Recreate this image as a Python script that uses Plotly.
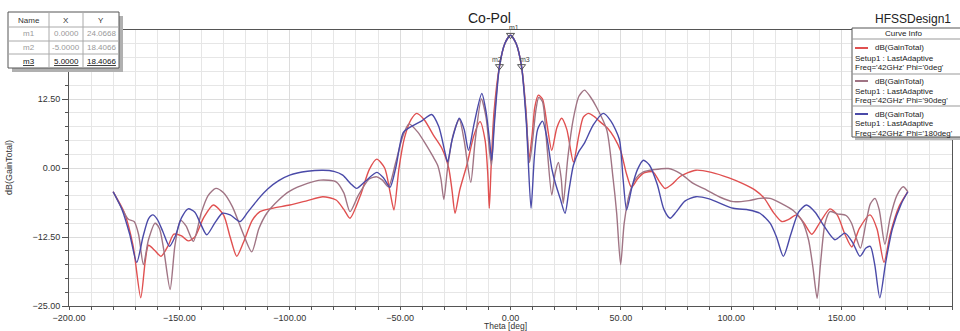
import plotly.graph_objects as go

# ---------------- data ----------------
theta_red = [-180, -175, -171, -167.5, -165.5, -164, -161, -158.3, -155, -152.5, -149, -146, -143, -139,
             -134.6, -130, -127, -124, -121, -117, -113.5, -108, -100, -92, -85, -79, -75.5, -72.7, -68,
             -64, -60.6, -57, -54.5, -52.8, -50.5, -48, -45, -42.5, -39, -35, -31, -28, -26.5, -25.1,
             -23, -19.8, -16.5, -13.8, -11.5, -10.3, -9.6, -8.8, -7.5, -5, -2.5, 0, 2.5, 5, 7, 8.4,
             9.8, 11, 12.6, 14.5, 16.5, 18.7, 21, 23.2, 25.5, 28.5, 31, 33, 35.3, 38, 40.5, 44, 47, 50,
             52.5, 54.8, 57.5, 60.5, 64.5, 67.5, 70, 73, 77, 84, 91, 99, 105, 110.8, 115, 119, 122.9,
             126, 129.6, 133, 136.5, 140, 144.7, 148, 151.5, 154.6, 158, 162.9, 166, 169.2, 172, 176, 180]
gain_red = [-4.3, -8.0, -14, -23.5, -17, -14.0, -15, -16.0, -14, -12.0, -12.3, -13.2, -12.5, -9,
            -6.7, -8.5, -12.5, -16.0, -13.5, -9.5, -7.9, -7.3, -6.7, -5.9, -5.2, -5.8, -7.5, -9.1, -5,
            -0.3, 1.6, 0, -4.5, -7.6, 0, 5.5, 8.8, 9.9, 8.7, 6.0, 3.5, 0, -4, -8.2,
            -4, 0.5, 6, 8.4, 5, -1, -7.3, 0, 10, 18.4066, 22.6, 24.0668, 22.6, 18.4066, 10.5, 1.7,
            6, 11, 13.2, 12.5, 8, 3.2, 7.3, 9.0, 7, 1.1, 6, 9.2, 9.9, 9.3, 8.4, 7.2, 5.5, 3.0,
            -1, -3.5, -2.0, -0.9, -0.7, -2.5, -3.7, -3.0, -1.5, -0.4, -0.8, -1.8, -2.8, -4.0, -5.5, -8.0, -9.7,
            -9.3, -8.5, -10, -12.0, -10, -7.4, -8.5, -12, -14.3, -11, -8.5, -11, -17.1, -12, -7, -4.3]

theta_90 = [-180, -176.5, -173.1, -170.5, -168.5, -166.3, -164, -161, -159, -157, -154.2, -152, -149.5,
            -147, -143.7, -140, -137, -133.5, -130, -126, -121, -117.2, -114, -110.4, -105, -100, -92,
            -86, -79, -75.5, -72.7, -69, -64, -60.6, -58, -55.3, -52, -49, -46, -42, -38.7, -35, -33,
            -31.5, -30.2, -28.5, -26, -23.2, -21, -18, -16, -13.2, -11, -9.5, -8.6, -7.5, -5, -2.5, 0,
            2.5, 5, 7, 8.6, 10, 11.5, 12.8, 14.5, 16.5, 18.7, 20.2, 21.7, 23, 23.9, 26, 28.5, 31, 33.5,
            36, 39, 43.6, 46.5, 48.1, 49.9, 51.5, 54, 57, 60.2, 65, 71.5, 77, 82.8, 88.9, 95, 100.9,
            108, 113, 117.6, 123, 128.1, 132, 135, 137, 138.9, 140.5, 142.5, 144.7, 148, 152, 154.5,
            156.5, 158.5, 161, 163, 165.1, 167, 169.6, 172, 175, 177.9, 180]
gain_90 = [-4.3, -7.0, -9.3, -9.7, -12, -17.5, -13, -10, -11, -15, -22.0, -14, -9.5,
           -10.5, -13.3, -8, -5, -3.7, -4.5, -7, -12, -15.2, -11, -8.2, -5.8, -4.2, -2.8,
           -2.2, -2.5, -4.5, -7.9, -5, -2.0, -1.6, -2.2, -3.4, 1, 5.5, 8.0, 6.5, 4.5, 2.0, 0.5,
           -2, -5.7, 0, 6, 8.8, 5, -2.6, 5, 12.5, 9, 3, 0.5, 8, 18.4066, 22.6, 24.0668,
           22.6, 18.4066, 10, 1.0, 5, 10.5, 12.8, 12, 4, -4.9, -1, 1.0, -2, -6.4, 2, 9, 13, 14.1,
           13, 11, 6.9, -2, -8.2, -17.5, -10, -4.5, -1.8, -0.7, -0.3, -0.1, -1.0, -2.8, -4.0, -5.3, -6.1,
           -5.9, -5.5, -5.5, -6.5, -7.7, -9.5, -13, -18, -23.6, -17, -10, -7.9, -8.3, -8.6, -10,
           -12.5, -14.5, -10, -6.5, -5.5, -7.5, -13.8, -9, -5, -3.4, -4.3]

theta_180 = [-180, -176, -172.5, -169.3, -166.5, -164, -162, -160, -157.5, -154.5, -152, -149, -146,
             -143, -140.5, -137.6, -134, -130.5, -127, -122.5, -119, -114, -110, -105, -100, -92, -85,
             -80, -76, -72.5, -69.7, -66, -60.6, -57.5, -54.6, -52, -48.6, -45, -40, -35.7, -32.5, -29.5,
             -28.5, -26.5, -23.2, -21, -19, -16.5, -13.0, -11, -9.5, -8.5, -7.3, -5, -2.5, 0, 2.5, 5,
             7.2, 9.3, 10.8, 12.3, 14.5, 16.5, 18.7, 20.5, 22.5, 24.7, 26.5, 28.5, 31, 33.5, 37.5, 42,
             45.5, 49.3, 51, 52.6, 55, 57.5, 60.2, 63, 66.5, 69.5, 72.3, 75, 79, 84, 90, 100.9, 108,
             113, 117.6, 120.5, 123.6, 127, 130.5, 134, 138, 142, 147, 151.5, 155, 158.3, 161, 163,
             165, 167.3, 170, 173, 177, 180]
gain_180 = [-4.3, -7.5, -12, -17.1, -12.5, -9.2, -8.5, -9.3, -11.5, -14.2, -12.5, -9, -7.4,
            -8, -10, -12.1, -10, -8.2, -8.5, -9.7, -8.0, -5.5, -3.8, -2.3, -1.3, -0.6, -0.4,
            -0.6, -1.3, -2.8, -3.7, -2.5, -0.8, -1.8, -3.5, 0, 6.4, 7.5, 8.6, 9.7, 7.5, 2.5,
            1.1, 5, 9.0, 7, 3.2, 8, 13.5, 10, 5, 1.4, 8, 18.4066, 22.6, 24.0668, 22.6, 18.4066,
            8, -7.3, 2, 7, 8.5, 5.5, -0.1, -3, -5.5, -8.2, -4, 0.5, 3.0, 4.5, 7.8, 9.9,
            8.5, 5.2, -2, -7.6, -3.5, -0.3, 1.4, 0.5, -3, -7.5, -9.1, -8, -6, -5.2, -5.6, -7.3, -7.6,
            -8.2, -10.0, -12.5, -16.0, -12, -8, -6.7, -8, -10.5, -13.0, -11.8, -13.5, -16.0, -14.5, -14.2,
            -17.5, -23.5, -17, -11, -6.5, -4.3]

marker_names = ["m1", "m2", "m3"]
marker_theta = [0.0, -5.0, 5.0]
marker_gain = [24.0668, 18.4066, 18.4066]

series_names = ["Freq='42GHz' Phi='0deg'", "Freq='42GHz' Phi='90deg'", "Freq='42GHz' Phi='180deg'"]
x_ticks = [-200, -150, -100, -50, 0, 50, 100, 150, 200]
y_ticks = [-25, -12.5, 0, 12.5]

# ---------------- styling ----------------
C_RED = "#e05050"
C_MAUVE = "#a07484"
C_BLUE = "#4a4aa8"
FONT = "Liberation Sans, Arial, sans-serif"

L, R, T, B = 69, 8, 30, 25
W, H = 960, 331
PW, PH = W - L - R, H - T - B


def px(x):
    return (x - L) / PW


def py(y):
    return (H - B - y) / PH


def text(x, y, t, size=8, color="#222", xa="center", ya="middle", **kw):
    d = dict(x=px(x), y=py(y), xref="paper", yref="paper", text=t, showarrow=False,
             xanchor=xa, yanchor=ya, font=dict(size=size, color=color, family=FONT))
    d.update(kw)
    return d


fig = go.Figure()
for th, g, col, nm in [(theta_red, gain_red, C_RED, series_names[0]),
                       (theta_90, gain_90, C_MAUVE, series_names[1]),
                       (theta_180, gain_180, C_BLUE, series_names[2])]:
    fig.add_trace(go.Scatter(x=th, y=g, mode="lines", name=nm,
                             line=dict(color=col, width=1.4, shape="spline", smoothing=0.7)))

fig.add_trace(go.Scatter(x=marker_theta, y=marker_gain, mode="markers", showlegend=False,
                         marker=dict(symbol="triangle-down-open", size=7, color="#555",
                                     line=dict(width=1, color="#555"))))

fig.update_layout(
    width=W, height=H, margin=dict(l=L, r=R, t=T, b=B),
    paper_bgcolor="white", plot_bgcolor="white", showlegend=False,
    font=dict(family=FONT, size=9, color="#333"),
)
fig.update_xaxes(range=[-200, 200], tickvals=x_ticks, tickformat=".2f",
                 showline=True, mirror=True, linecolor="#555", linewidth=1,
                 ticks="outside", ticklen=3, tickcolor="#555",
                 showgrid=True, gridcolor="#dcdcdc", gridwidth=1, zeroline=False,
                 tickfont=dict(size=9, color="#333"),
                 minor=dict(tick0=-200, dtick=10, ticks="outside", ticklen=3, tickcolor="#555",
                            showgrid=True, gridcolor="#e6e6e6"))
fig.update_yaxes(range=[-25, 25], tickvals=y_ticks, tickformat=".2f",
                 showline=True, mirror=True, linecolor="#555", linewidth=1,
                 ticks="outside", ticklen=6, tickcolor="#555",
                 showgrid=True, gridcolor="#dcdcdc", gridwidth=1, zeroline=False,
                 tickfont=dict(size=9, color="#333"),
                 minor=dict(tick0=-25, dtick=2.5, ticks="outside", ticklen=3, tickcolor="#555",
                            showgrid=True, gridcolor="#e6e6e6"))

shapes = []
ann = []

# axis titles / titles
ann.append(text(9, 168, "dB(GainTotal)", size=9, color="#333", textangle=-90))
ann.append(text(505, 325.5, "Theta [deg]", size=8.5, color="#333"))
ann.append(text(489, 18, "Co-Pol", size=14, color="#222"))
ann.append(text(913, 19, "HFSSDesign1", size=12, color="#222"))

# marker labels
for nm, th, g, dx, dy in zip(marker_names, marker_theta, marker_gain, [3, -2, 3], [-8, -7, -7]):
    ann.append(dict(x=th, y=g, xref="x", yref="y", text=nm, showarrow=False,
                    xanchor="center", yanchor="middle",
                    xshift=dx, yshift=-dy, font=dict(size=7, color="#444")))

# marker table
tx0, tx1, ty0, ty1 = 8, 119, 12, 68
shapes.append(dict(type="rect", xref="paper", yref="paper", x0=px(tx0 + 4), x1=px(tx1 + 4),
                   y0=py(ty0 + 4), y1=py(ty1 + 4), fillcolor="#b0b0b0", line=dict(width=0), layer="above"))
shapes.append(dict(type="rect", xref="paper", yref="paper", x0=px(tx0), x1=px(tx1),
                   y0=py(ty0), y1=py(ty1), fillcolor="white", line=dict(color="#555", width=1), layer="above"))
for yy in [27, 41, 54]:
    shapes.append(dict(type="line", xref="paper", yref="paper", x0=px(tx0), x1=px(tx1),
                       y0=py(yy), y1=py(yy), line=dict(color="#aaa", width=1), layer="above"))
for xx in [49, 83]:
    shapes.append(dict(type="line", xref="paper", yref="paper", x0=px(xx), x1=px(xx),
                       y0=py(ty0), y1=py(ty1), line=dict(color="#aaa", width=1), layer="above"))
col_x = [29, 66, 101]
for t, xx in zip(["Name", "X", "Y"], col_x):
    ann.append(text(xx, 20, t, size=8, color="#333"))
row_y = [34, 47, 61]
for i, (nm, th, g) in enumerate(zip(marker_names, marker_theta, marker_gain)):
    col = "#999" if i < 2 else "#111"
    vals = [nm, f"{th:.4f}", f"{g:.4f}"]
    for v, xx in zip(vals, col_x):
        t = f"<u>{v}</u>" if i == 2 else v
        ann.append(text(xx, row_y[i], t, size=8, color=col))

# curve info legend box
lx0, lx1, ly0, ly1 = 852, 962, 28, 137
shapes.append(dict(type="rect", xref="paper", yref="paper", x0=px(lx0 + 3), x1=px(lx1 + 3),
                   y0=py(ly0 + 3), y1=py(ly1 + 3), fillcolor="#b8b8b8", line=dict(width=0), layer="above"))
shapes.append(dict(type="rect", xref="paper", yref="paper", x0=px(lx0), x1=px(lx1),
                   y0=py(ly0), y1=py(ly1), fillcolor="white", line=dict(color="#555", width=1), layer="above"))
for yy in [39, 74, 106]:
    shapes.append(dict(type="line", xref="paper", yref="paper", x0=px(lx0), x1=px(lx1),
                       y0=py(yy), y1=py(yy), line=dict(color="#999", width=1), layer="above"))
ann.append(text(903, 34, "Curve Info", size=8))
entry_top = [48, 81, 114]
for col, nm, yt in zip([C_RED, C_MAUVE, C_BLUE], series_names, entry_top):
    shapes.append(dict(type="line", xref="paper", yref="paper", x0=px(855), x1=px(868),
                       y0=py(yt), y1=py(yt), line=dict(color=col, width=2), layer="above"))
    ann.append(text(873, yt, "dB(GainTotal)", xa="left"))
    ann.append(text(853, yt + 10, "Setup1 : LastAdaptive", xa="left"))
    ann.append(text(853, yt + 19, nm, xa="left"))

fig.update_layout(shapes=shapes, annotations=ann)
fig.write_html("out.html", config={"displayModeBar": False},
               post_script="document.body.style.margin='0';")
